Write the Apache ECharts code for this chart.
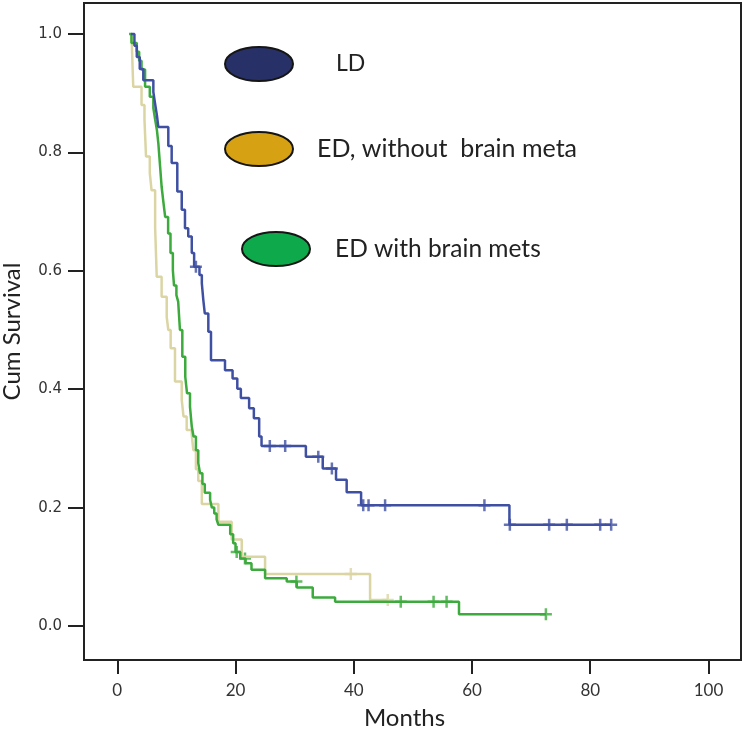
<!DOCTYPE html>
<html>
<head>
<meta charset="utf-8">
<script src="https://cdn.jsdelivr.net/npm/echarts@6/dist/echarts.min.js"></script>
<style>
html,body{margin:0;padding:0;background:#fff;}
#chart{width:743px;height:738px;}
</style>
</head>
<body>
<div id="chart"></div>
<script>
// ---- Data ----
const xTicks = [0, 20, 40, 60, 80, 100];
const yTicks = [0.0, 0.2, 0.4, 0.6, 0.8, 1.0];

// LD: event times and survival after each step
const ldT = [2.3, 2.9, 3.3, 3.8, 4.4, 6.1, 6.4, 6.7, 6.94, 8.63, 9.2, 10.15, 10.9, 11.45, 12.0, 12.6, 13.0,
  13.9, 14.3, 14.55, 14.8, 15.4, 15.85, 18.22, 19.5, 20.3, 20.9, 22.3, 23.1, 24.0, 24.4,
  31.9, 34.75, 37.0, 38.8, 41.24, 66.33];
const ldS = [1.0, 0.98, 0.961, 0.941, 0.922, 0.902, 0.882, 0.863, 0.843, 0.811, 0.782, 0.734, 0.703, 0.672, 0.658, 0.630, 0.607,
  0.593, 0.579, 0.551, 0.528, 0.497, 0.449, 0.432, 0.418, 0.401, 0.385, 0.368, 0.351, 0.320, 0.304,
  0.286, 0.266, 0.247, 0.226, 0.204, 0.171];
const ldCensor = [13.3, 25.8, 28.4, 34.0, 36.3, 41.6, 42.5, 45.3, 62.1, 66.4, 73.05, 76.04, 81.68, 83.54];
const ldEnd = 83.54;

// ED, without brain metastases
const edNoT = [2.4, 2.7, 4.1, 4.6, 4.86, 5.5, 5.8, 6.4, 6.67, 7.5, 8.36, 8.63, 9.03, 9.76, 10.9, 11.2, 11.74, 12.6, 12.86,
  13.3, 13.7, 14.3, 17.1, 19.35, 21.05, 25.0, 42.76];
const edNoS = [1.0, 0.911, 0.88, 0.855, 0.793, 0.765, 0.736, 0.674, 0.59, 0.556, 0.522, 0.50, 0.469, 0.413, 0.382, 0.354, 0.331, 0.323, 0.297,
  0.265, 0.245, 0.206, 0.176, 0.146, 0.117, 0.088, 0.044];
const edNoCensor = [39.5, 45.75];
const edNoEnd = 45.75;

// ED with brain metastases
const edBmT = [2.0, 2.4, 3.3, 3.7, 4.1, 4.7, 5.5, 6.1, 6.4, 6.7, 6.95, 7.2, 7.5, 7.8, 8.1, 8.6, 9.0, 9.4, 9.6, 10.0, 10.3,
  10.6, 11.0, 11.5, 11.8, 12.3, 12.6, 12.9, 13.3, 13.7, 14.0, 14.4, 14.8, 15.7, 16.0, 16.4, 16.8, 17.1, 19.1, 19.6,
  20.0, 20.8, 21.7, 22.7, 25.0, 28.66, 30.36, 33.06, 36.84, 57.8];
const edBmS = [1.0, 0.985, 0.97, 0.955, 0.94, 0.911, 0.894, 0.875, 0.856, 0.838, 0.815, 0.782, 0.742, 0.716, 0.691, 0.663, 0.630, 0.601, 0.575, 0.559, 0.548,
  0.50, 0.455, 0.421, 0.393, 0.370, 0.337, 0.320, 0.297, 0.275, 0.258, 0.240, 0.225, 0.213, 0.200, 0.190, 0.180, 0.171, 0.155, 0.140,
  0.125, 0.114, 0.106, 0.095, 0.0805, 0.075, 0.065, 0.048, 0.041, 0.020];
const edBmCensor = [20.2, 21.6, 30.3, 47.95, 53.5, 55.7, 72.5];
const edBmEnd = 72.5;

const seriesNames = ['LD', 'ED, without  brain meta', 'ED with brain mets'];

// ---- helpers ----
function stepData(T, S, end) {
  const d = T.map((t, i) => [t, S[i]]);
  d.push([end, S[S.length - 1]]);
  return d;
}
function survAt(T, S, t) {
  let s = S[0];
  for (let i = 0; i < T.length; i++) { if (T[i] <= t + 1e-9) s = S[i]; }
  return s;
}
function censorData(T, S, C) { return C.map(t => [t, survAt(T, S, t)]); }

const cLD = '#3F50A3', cNo = '#DBD5A4', cBm = '#3CAA3C';
const crossPath = 'path://M0,6L12,6M6,0L6,12';

function lineSeries(name, T, S, end, color) {
  return { name: name, type: 'line', step: 'end', showSymbol: false, symbol: 'none',
    data: stepData(T, S, end), lineStyle: { color: color, width: 2.5 }, itemStyle: { color: color },
    animation: false, silent: true };
}
function censorSeries(name, T, S, C, color) {
  return { name: name, type: 'scatter', data: censorData(T, S, C), symbol: crossPath, symbolSize: [12, 12],
    itemStyle: { color: 'transparent', borderColor: color, borderWidth: 2.5 }, animation: false, silent: true };
}
const ellipse = 'path://M0,25A50,25 0 1,1 100,25A50,25 0 1,1 0,25Z';
function legendFor(name, color, left, top, pad, size) {
  return { data: [{ name: name, icon: ellipse, itemStyle: { color: color, borderColor: '#151515', borderWidth: 2 } }],
    left: left, top: top, padding: 0, itemWidth: 72, itemHeight: 34, selectedMode: false,
    textStyle: { fontFamily: 'Lato', fontSize: size, color: '#222', padding: pad } };
}

const chart = echarts.init(document.getElementById('chart'));
chart.setOption({
  backgroundColor: '#fff',
  animation: false,
  grid: { left: 84, top: 3, right: 2, bottom: 78, show: true, borderColor: '#222', borderWidth: 2,
    containLabel: false, outerBoundsMode: 'none' },
  legend: [
    legendFor(seriesNames[0], '#283167', 224, 46, [0, 0, 0, 36], 23),
    legendFor(seriesNames[1], '#D6A214', 224, 131, [10, 0, 0, 17], 25),
    legendFor(seriesNames[2], '#0EA94B', 241, 231, [0, 0, 6, 18], 24.5)
  ],
  xAxis: {
    type: 'value', min: -5.63, max: 105.5,
    name: 'Months', nameLocation: 'middle', nameGap: 46,
    nameTextStyle: { fontFamily: 'Lato', fontSize: 24, color: '#222', padding: [0, 16, 0, 0] },
    axisLine: { show: true, onZero: false, lineStyle: { color: '#222', width: 2 } },
    axisTick: { show: true, inside: false, length: 14, customValues: xTicks, lineStyle: { color: '#222', width: 2 } },
    axisLabel: { customValues: xTicks, margin: 22, fontFamily: 'Lato', fontSize: 17, color: '#333' },
    splitLine: { show: false }
  },
  yAxis: {
    type: 'value', min: -0.0574, max: 1.0524,
    name: 'Cum Survival', nameLocation: 'middle', nameGap: 60,
    nameTextStyle: { fontFamily: 'Lato', fontSize: 24, color: '#222' },
    axisLine: { show: true, onZero: false, lineStyle: { color: '#222', width: 2 } },
    axisTick: { show: true, inside: false, length: 16, customValues: yTicks, lineStyle: { color: '#222', width: 2 } },
    axisLabel: { customValues: yTicks, margin: 22, fontFamily: 'DejaVu Sans', fontSize: 15, color: '#333',
      formatter: v => v.toFixed(1) },
    splitLine: { show: false }
  },
  series: [
    lineSeries(seriesNames[1], edNoT, edNoS, edNoEnd, cNo),
    censorSeries('ED without censored', edNoT, edNoS, edNoCensor, cNo),
    lineSeries(seriesNames[2], edBmT, edBmS, edBmEnd, cBm),
    censorSeries('ED with censored', edBmT, edBmS, edBmCensor, cBm),
    lineSeries(seriesNames[0], ldT, ldS, ldEnd, cLD),
    censorSeries('LD censored', ldT, ldS, ldCensor, cLD)
  ]
});
</script>
</body>
</html>
